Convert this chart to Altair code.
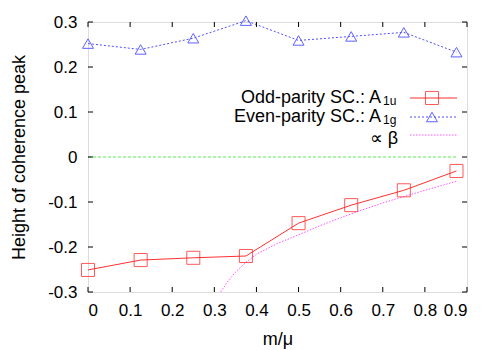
import altair as alt
import pandas as pd

# ---- data ----
x_vals = [0, 0.125, 0.25, 0.375, 0.5, 0.625, 0.75, 0.875]
odd_a1u = [-0.251, -0.229, -0.224, -0.220, -0.147, -0.107, -0.074, -0.031]
even_a1g = [0.252, 0.239, 0.264, 0.303, 0.259, 0.268, 0.277, 0.233]
beta_x = [0.315, 0.33, 0.35, 0.375, 0.40, 0.45, 0.5, 0.55, 0.6, 0.65, 0.7, 0.75, 0.8, 0.875]
beta_y = [-0.300, -0.279, -0.256, -0.234, -0.216, -0.192, -0.173, -0.153, -0.135, -0.118, -0.102, -0.088, -0.074, -0.054]
zero_x = [0, 0.875]
zero_y = [0, 0]
x_ticks = [0, 0.1, 0.2, 0.3, 0.4, 0.5, 0.6, 0.7, 0.8, 0.9]
y_ticks = [-0.3, -0.2, -0.1, 0, 0.1, 0.2, 0.3]
legend_main = ["Odd-parity SC.: A", "Even-parity SC.: A", "\u221d \u03b2"]
legend_sub = ["1u", "1g", ""]

FONT = "Liberation Sans"
W, H = 379, 270
RED = "#ff3030"
BLUE = "#5050ff"
MAG = "#ff55ff"
GREEN = "#55ee55"

odd_df = pd.DataFrame({"x": x_vals, "y": odd_a1u})
even_df = pd.DataFrame({"x": x_vals, "y": even_a1g})
beta_df = pd.DataFrame({"x": beta_x, "y": beta_y})
zero_df = pd.DataFrame({"x": zero_x, "y": zero_y})
xt_df = pd.DataFrame({"v": x_ticks})
yt_df = pd.DataFrame({"v": y_ticks})

xscale = alt.Scale(domain=[0, 0.9], nice=False, zero=False)
yscale = alt.Scale(domain=[-0.3, 0.3], nice=False, zero=False)

lab_expr = "datum.value == 0 ? '0' : (datum.value < 0 ? '-' : '') + format(abs(datum.value), '.1f')"

X = alt.X("x:Q", scale=xscale, axis=alt.Axis(
    values=x_ticks, labelExpr=lab_expr, ticks=False, domain=False, grid=False,
    labelFont=FONT, labelFontSize=17, labelColor="black", labelPadding=10,
    title="m/\u03bc", titleFont=FONT, titleFontSize=18, titleFontWeight="normal",
    titleColor="black", titlePadding=12))
Y = alt.Y("y:Q", scale=yscale, axis=alt.Axis(
    values=y_ticks, labelExpr=lab_expr, ticks=False, domain=False, grid=False,
    labelFont=FONT, labelFontSize=17, labelColor="black", labelPadding=11,
    title="Height of coherence peak", titleFont=FONT, titleFontSize=18,
    titleFontWeight="normal", titleColor="black", titlePadding=19))

zero_line = alt.Chart(zero_df).mark_line(color=GREEN, strokeWidth=1, strokeDash=[3, 2]).encode(x=X, y=Y)

beta_line = alt.Chart(beta_df).mark_line(color=MAG, strokeWidth=1, strokeDash=[1.5, 1.5], clip=True).encode(
    x=alt.X("x:Q", scale=xscale), y=alt.Y("y:Q", scale=yscale))

odd_line = alt.Chart(odd_df).mark_line(color=RED, strokeWidth=1).encode(
    x=alt.X("x:Q", scale=xscale), y=alt.Y("y:Q", scale=yscale))
odd_pts = alt.Chart(odd_df).mark_point(shape="square", size=170, color=RED, strokeWidth=1, opacity=0.8).encode(
    x=alt.X("x:Q", scale=xscale), y=alt.Y("y:Q", scale=yscale))

even_line = alt.Chart(even_df).mark_line(color=BLUE, strokeWidth=1, strokeDash=[2, 2]).encode(
    x=alt.X("x:Q", scale=xscale), y=alt.Y("y:Q", scale=yscale))
even_pts = alt.Chart(even_df).mark_point(shape="triangle-up", size=120, color=BLUE, strokeWidth=1, opacity=0.9).encode(
    x=alt.X("x:Q", scale=xscale), y=alt.Y("y:Q", scale=yscale))

TL = 5
tick_b = alt.Chart(xt_df).mark_rule(color="black").encode(
    x=alt.X("v:Q", scale=xscale), y=alt.value(H), y2=alt.value(H - TL))
tick_t = alt.Chart(xt_df).mark_rule(color="black").encode(
    x=alt.X("v:Q", scale=xscale), y=alt.value(0), y2=alt.value(TL))
tick_l = alt.Chart(yt_df).mark_rule(color="black").encode(
    y=alt.Y("v:Q", scale=yscale), x=alt.value(0), x2=alt.value(TL))
tick_r = alt.Chart(yt_df).mark_rule(color="black").encode(
    y=alt.Y("v:Q", scale=yscale), x=alt.value(W), x2=alt.value(W - TL))

# ---- legend (drawn in the upper right, like gnuplot's key) ----
leg_rows = [76, 95, 113]
leg_layers = []
one = pd.DataFrame({"a": [0]})
for i, (main, sub) in enumerate(zip(legend_main, legend_sub)):
    ly = leg_rows[i]
    if sub:
        leg_layers.append(alt.Chart(one).mark_text(align="right", baseline="alphabetic", font=FONT, fontSize=18, color="black").encode(
            x=alt.value(293), y=alt.value(ly + 5), text=alt.value(main)))
        leg_layers.append(alt.Chart(one).mark_text(align="left", baseline="alphabetic", font=FONT, fontSize=12, color="black").encode(
            x=alt.value(295), y=alt.value(ly + 7), text=alt.value(sub)))
    else:
        leg_layers.append(alt.Chart(one).mark_text(align="right", baseline="alphabetic", font=FONT, fontSize=18, color="black").encode(
            x=alt.value(310), y=alt.value(ly + 9), text=alt.value(main)))

leg_odd_line = alt.Chart(one).mark_rule(color=RED, strokeWidth=1).encode(x=alt.value(322), x2=alt.value(369), y=alt.value(leg_rows[0]))
leg_odd_pt = alt.Chart(one).mark_point(shape="square", size=170, color=RED, strokeWidth=1, opacity=0.8).encode(x=alt.value(344), y=alt.value(leg_rows[0]))
leg_even_line = alt.Chart(one).mark_rule(color=BLUE, strokeWidth=1, strokeDash=[2, 2]).encode(x=alt.value(322), x2=alt.value(369), y=alt.value(leg_rows[1]))
leg_even_pt = alt.Chart(one).mark_point(shape="triangle-up", size=120, color=BLUE, strokeWidth=1, opacity=0.9).encode(x=alt.value(344), y=alt.value(leg_rows[1]))
leg_beta_line = alt.Chart(one).mark_rule(color=MAG, strokeWidth=1, strokeDash=[1.5, 1.5]).encode(x=alt.value(322), x2=alt.value(369), y=alt.value(leg_rows[2]))

chart = alt.layer(
    zero_line, beta_line, odd_line, odd_pts, even_line, even_pts,
    tick_b, tick_t, tick_l, tick_r,
    *leg_layers, leg_odd_line, leg_odd_pt, leg_even_line, leg_even_pt, leg_beta_line,
).properties(
    width=W, height=H,
    autosize=alt.AutoSizeParams(type="none"),
    padding={"left": 80, "top": 14, "right": 25, "bottom": 58},
).configure_view(
    stroke="black", strokeWidth=1
).configure(background="white")

chart.save("out.html", embed_options={"renderer": "svg", "actions": False})
